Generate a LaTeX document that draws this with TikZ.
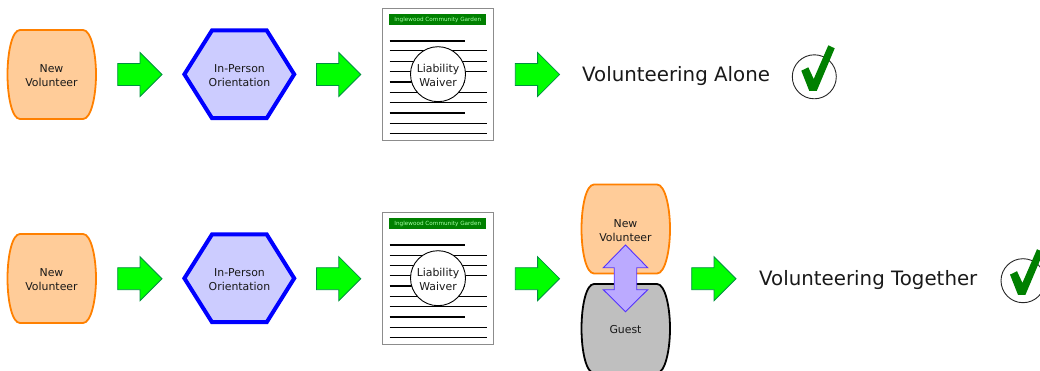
\documentclass[tikz,border=0pt]{standalone}
\usepackage{fontspec}
\setmainfont{DejaVu Sans}
\definecolor{orgline}{HTML}{FF8000}
\definecolor{orgfill}{HTML}{FFCC99}
\definecolor{hexfill}{HTML}{CCCCFF}
\definecolor{arrline}{HTML}{009040}
\definecolor{dblfill}{HTML}{BBAAFF}
\definecolor{dblline}{HTML}{5533FF}
\definecolor{darkgrn}{HTML}{008000}
\tikzset{
  x=1pt,y=-1pt,
  lbl/.style={align=center,font=\fontsize{10.9}{14}\selectfont,text=black!90,inner sep=0pt},
  biglbl/.style={anchor=west,font=\fontsize{19.8}{24}\selectfont,text=black!90,inner sep=0pt},
  blockarrow/.style={draw=arrline,fill=green,line width=0.8pt,line join=miter},
  orangeblob/.style={draw=orgline,fill=orgfill,line width=1.8pt},
  grayblob/.style={draw=black,fill=black!25,line width=1.8pt},
  hexa/.style={draw=blue,fill=hexfill,line width=4pt,line join=miter},
  page/.style={draw=black!45,fill=white,line width=0.9pt},
  rule/.style={draw=black,line width=1pt},
  thickrule/.style={draw=black,line width=2pt},
  seal/.style={circle,draw=black,fill=white,line width=0.9pt,minimum size=55pt,inner sep=0pt},
  band/.style={fill=darkgrn,minimum width=97pt,minimum height=11pt,inner sep=0pt,text=white!65!green,font=\fontsize{5.7}{6}\selectfont},
  dblarrow/.style={draw=dblline,fill=dblfill,line width=0.9pt,line join=miter},
  tick/.style={draw=black!85,line width=0.9pt},
  tickmark/.style={fill=darkgrn},
}
\newcommand{\BlobPath}{(13,-44.5) -- (76,-44.5) .. controls (84,-44.5) and (89,-22) .. (89,0) .. controls (89,22) and (84,44.5) .. (76,44.5) -- (13,44.5) .. controls (5,44.5) and (0.5,22) .. (0.5,0) .. controls (0.5,-22) and (5,-44.5) .. (13,-44.5) -- cycle}
\newcommand{\ArrowAt}[3]{\draw[blockarrow,shift={(#1,#2)}] (0,-11) -- (22.3,-11) -- (22.3,-22) -- (44.3,0) -- (22.3,22) -- (22.3,11) -- (0,11) -- cycle; \coordinate (#3) at (#1+22,#2);}
\newcommand{\DocAt}[3]{%
  \begin{scope}[shift={(#1,#2)}]
    \draw[page] (0,0) rectangle (110.5,132);
    \node[band] (#3band) at (55.3,11) {Inglewood Community Garden};
    \draw[thickrule] (7,32.2) -- (82,32.2);
    \draw[rule] (7,42.5) -- (104,42.5);
    \draw[rule] (7,53.2) -- (104,53.2);
    \draw[rule] (7,63.2) -- (104,63.2);
    \draw[thickrule] (7,73.5) -- (82,73.5);
    \draw[rule] (7,83.8) -- (104,83.8);
    \draw[rule] (7,94.2) -- (104,94.2);
    \draw[thickrule] (7,104.5) -- (82,104.5);
    \draw[rule] (7,114.8) -- (104,114.8);
    \draw[rule] (7,125.2) -- (104,125.2);
    \node[seal] (#3seal) at (55.5,65.7) {};
    \node[lbl] (#3text) at (55.5,66.7) {Liability\\Waiver};
  \end{scope}}
\newcommand{\CheckAt}[3]{%
  \begin{scope}[shift={(#1,#2)}]
    \node[tick,circle,minimum size=44pt,inner sep=0pt] (#3) at (0,0) {};
    \fill[tickmark] (-13,-6.1) -- (-6,-9.5) -- (-0.6,2.2) -- (14,-31.5) -- (20.4,-28.5) -- (2.4,14.2) -- (-5,14.2) -- cycle;
  \end{scope}}
\begin{document}
\begin{tikzpicture}
\useasboundingbox (0,0) rectangle (1040,371);
\clip (0,0) rectangle (1040,371);
% top row
\draw[orangeblob,shift={(7,74.5)}] \BlobPath;
\node[lbl] (v1) at (51.5,76) {New\\Volunteer};
\ArrowAt{117.7}{74.5}{a1}
\draw[hexa] (212,30.4) -- (266.7,30.4) -- (294.2,74.3) -- (266.7,118.2) -- (212,118.2) -- (184.4,74.3) -- cycle;
\node[lbl] (o1) at (239.5,76) {In-Person\\Orientation};
\ArrowAt{316.5}{74.5}{a2}
\DocAt{382.5}{8.5}{d1}
\ArrowAt{515.3}{74.5}{a3}
\node[biglbl] (t1) at (582,76.5) {Volunteering Alone};
\CheckAt{814.3}{76.8}{c1}
% bottom row
\draw[orangeblob,shift={(7,278.5)}] \BlobPath;
\node[lbl] (v2) at (51.5,280) {New\\Volunteer};
\ArrowAt{117.7}{278.7}{a4}
\draw[hexa] (212,234.4) -- (266.7,234.4) -- (294.2,278.3) -- (266.7,322.2) -- (212,322.2) -- (184.4,278.3) -- cycle;
\node[lbl] (o2) at (239.5,280) {In-Person\\Orientation};
\ArrowAt{316.5}{278.7}{a5}
\DocAt{382.5}{212.5}{d2}
\ArrowAt{515.3}{278.7}{a6}
\draw[grayblob,shift={(581,328.5)}] \BlobPath;
\node[lbl] (g) at (625.5,330) {Guest};
\draw[orangeblob,shift={(581,229)}] \BlobPath;
\node[lbl] (v3) at (625.5,230.5) {New\\Volunteer};
\draw[dblarrow] (625.5,245) -- (647.7,267.7) -- (636.7,267.7) -- (636.7,289.7) -- (647.7,289.7) -- (625.5,311.7) -- (603.3,289.7) -- (614.2,289.7) -- (614.2,267.7) -- (603.3,267.7) -- cycle;
\ArrowAt{691.7}{278.7}{a7}
\node[biglbl] (t2) at (759,280.5) {Volunteering Together};
\CheckAt{1023}{280.7}{c2}
\end{tikzpicture}
\end{document}
